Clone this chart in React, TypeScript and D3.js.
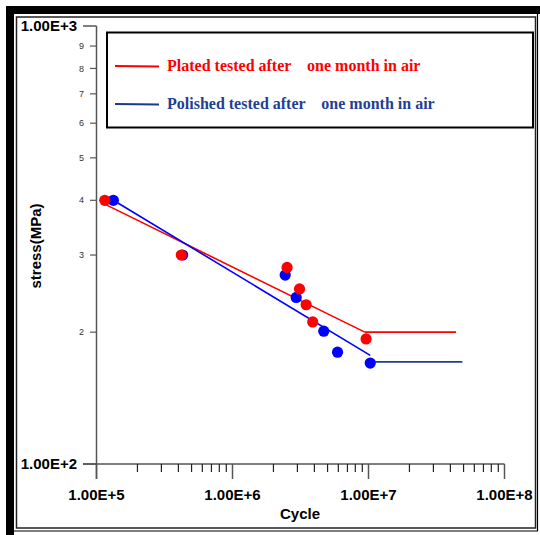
import React from "react";
import * as d3 from "d3";

// measured points (cycles, stress MPa)
const platedCycles = [1.15e5, 4.2e5, 2.52e6, 3.11e6, 3.48e6, 3.89e6, 9.6e6];
const platedStress = [400, 300, 281, 251, 231, 211, 193];
const polishedCycles = [1.33e5, 4.3e5, 2.44e6, 2.94e6, 4.69e6, 5.92e6, 1.03e7];
const polishedStress = [400, 300, 270, 240, 201, 180, 170];

// fitted lines: sloped part, then run-out plateau
const platedSlopeCycles = [1.15e5, 9.4e6];
const platedSlopeStress = [392, 200];
const platedFlatCycles = [9.4e6, 4.4e7];
const platedFlatStress = [200, 200];
const polishedSlopeCycles = [1.33e5, 1.03e7];
const polishedSlopeStress = [400, 177];
const polishedFlatCycles = [1.03e7, 4.9e7];
const polishedFlatStress = [171, 171];

const xMajor = [1e5, 1e6, 1e7, 1e8];
const xMajorLabels = ["1.00E+5", "1.00E+6", "1.00E+7", "1.00E+8"];
const yMajor = [100, 1000];
const yMajorLabels = ["1.00E+2", "1.00E+3"];
const yMinor = [200, 300, 400, 500, 600, 700, 800, 900];
const yMinorLabels = ["2", "3", "4", "5", "6", "7", "8", "9"];

const legendItems = [
  { label: "Plated tested after    one month in air", line: "#ff0000", text: "#ff0000" },
  { label: "Polished tested after    one month in air", line: "#1a3a8c", text: "#1f3f93" },
];

const sans = "'Liberation Sans', Arial, sans-serif";
const serif = "'Liberation Serif', 'Times New Roman', serif";

const x = d3.scaleLog().domain([1e5, 1e8]).range([96.5, 504.5]);
const y = d3.scaleLog().domain([100, 1000]).range([464, 26]);

const xMinor: number[] = [];
[1e5, 1e6, 1e7].forEach((d) => {
  for (let k = 2; k <= 9; k++) xMinor.push(d * k);
});

const line = d3
  .line<[number, number]>()
  .x((d) => x(d[0]))
  .y((d) => y(d[1]));

const zip = (a: number[], b: number[]) => a.map((v, i) => [v, b[i]] as [number, number]);

const App = () => {
  const axisColor = "#555";
  return (
    <svg
      width={540}
      height={535}
      style={{ position: "absolute", left: 0, top: 0, background: "#fff" }}
    >
      {/* frame */}
      <rect x={6} y={6} width={534} height={8} fill="#000" />
      <rect x={6} y={6} width={8} height={529} fill="#000" />
      <rect x={16.5} y={17} width={519} height={511} fill="none" stroke="#222" strokeWidth={1.5} />
      <line x1={14} x2={538} y1={531} y2={531} stroke="#000" strokeWidth={1.2} />
      <line x1={537.5} x2={537.5} y1={14} y2={531} stroke="#000" strokeWidth={1.2} />

      {/* y axis */}
      <line x1={x(1e5)} x2={x(1e5)} y1={y(1000)} y2={479} stroke={axisColor} strokeWidth={1.5} />
      {yMajor.map((v, i) => (
        <g key={"ym" + v}>
          <line x1={83} x2={x(1e5)} y1={y(v)} y2={y(v)} stroke={axisColor} strokeWidth={1.5} />
          <text
            x={77}
            y={y(v)}
            dy="0.36em"
            textAnchor="end"
            fontFamily={sans}
            fontWeight="bold"
            fontSize={15}
            fill="#000"
          >
            {yMajorLabels[i]}
          </text>
        </g>
      ))}
      {yMinor.map((v, i) => (
        <g key={"yn" + v}>
          <line x1={90} x2={x(1e5)} y1={y(v)} y2={y(v)} stroke={axisColor} strokeWidth={1.2} />
          <text
            x={84}
            y={y(v)}
            dy="0.35em"
            textAnchor="end"
            fontFamily={sans}
            fontSize={9}
            fill="#333"
          >
            {yMinorLabels[i]}
          </text>
        </g>
      ))}

      {/* x axis */}
      <line x1={83} x2={x(1e8)} y1={y(100)} y2={y(100)} stroke={axisColor} strokeWidth={1.5} />
      {xMinor.map((v) => (
        <line key={"xn" + v} x1={x(v)} x2={x(v)} y1={y(100)} y2={472} stroke="#222" strokeWidth={1.2} />
      ))}
      {xMajor.map((v, i) => (
        <g key={"xm" + v}>
          <line x1={x(v)} x2={x(v)} y1={y(100)} y2={479} stroke={axisColor} strokeWidth={1.5} />
          <text
            x={x(v)}
            y={500}
            textAnchor="middle"
            fontFamily={sans}
            fontWeight="bold"
            fontSize={15}
            fill="#000"
          >
            {xMajorLabels[i]}
          </text>
        </g>
      ))}

      {/* axis titles */}
      <text x={300} y={519} textAnchor="middle" fontFamily={sans} fontWeight="bold" fontSize={15}>
        Cycle
      </text>
      <text
        transform="translate(41,246) rotate(-90)"
        textAnchor="middle"
        fontFamily={sans}
        fontWeight="bold"
        fontSize={15}
      >
        stress(MPa)
      </text>

      {/* fitted lines */}
      <path d={line(zip(platedSlopeCycles, platedSlopeStress)) || ""} stroke="#ff0000" strokeWidth={1.6} fill="none" />
      <path d={line(zip(platedFlatCycles, platedFlatStress)) || ""} stroke="#ff0000" strokeWidth={1.8} fill="none" />
      <path d={line(zip(polishedSlopeCycles, polishedSlopeStress)) || ""} stroke="#0000ff" strokeWidth={1.6} fill="none" />
      <path d={line(zip(polishedFlatCycles, polishedFlatStress)) || ""} stroke="#1f3f8f" strokeWidth={1.8} fill="none" />

      {/* points */}
      {zip(polishedCycles, polishedStress).map((d, i) => (
        <circle key={"b" + i} cx={x(d[0])} cy={y(d[1])} r={5.6} fill="#0000ff" />
      ))}
      {zip(platedCycles, platedStress).map((d, i) => (
        <circle key={"r" + i} cx={x(d[0])} cy={y(d[1])} r={5.6} fill="#ff0000" />
      ))}

      {/* legend */}
      <rect x={107} y={32.5} width={426} height={95} fill="#fff" stroke="#000" strokeWidth={2} />
      {legendItems.map((it, i) => (
        <g key={it.label} transform={`translate(0,${66 + i * 38})`}>
          <line x1={115} x2={159} y1={0} y2={0.5} stroke={it.line} strokeWidth={2} />
          <text
            x={167}
            y={5}
            fontFamily={serif}
            fontWeight="bold"
            fontSize={16}
            fill={it.text}
            style={{ whiteSpace: "pre" }}
          >
            {it.label}
          </text>
        </g>
      ))}
    </svg>
  );
};

export default App;
